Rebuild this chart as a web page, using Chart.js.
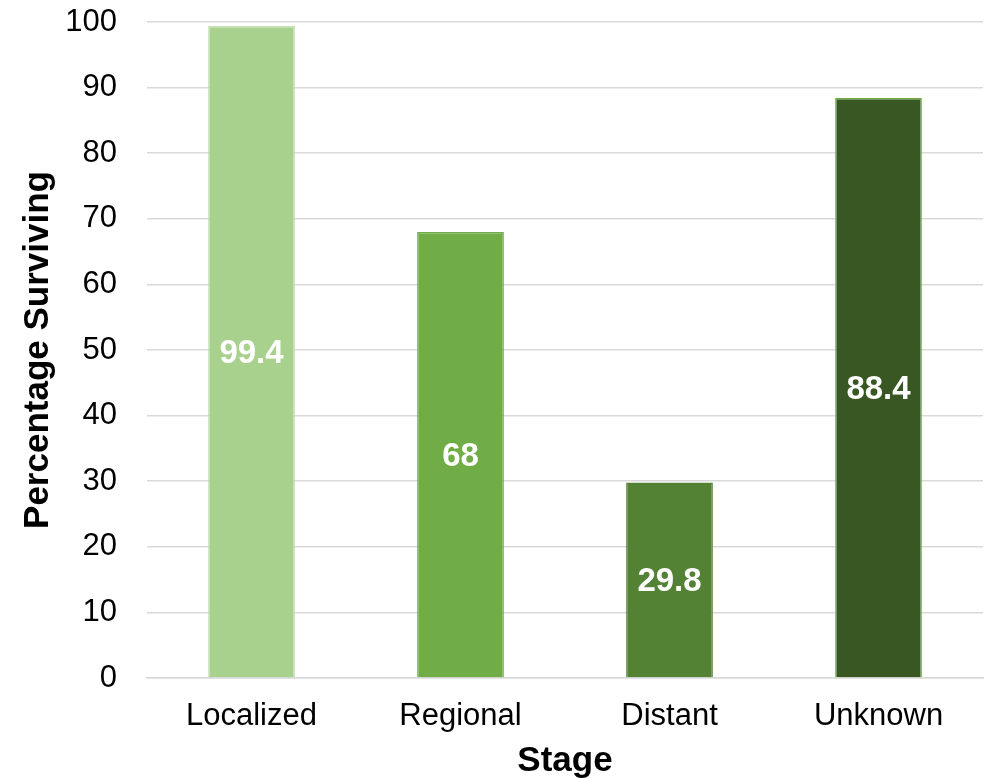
<!DOCTYPE html>
<html>
<head>
<meta charset="utf-8">
<script src="https://cdn.jsdelivr.net/npm/chart.js@4.4.1/dist/chart.umd.min.js"></script>
<style>
  html, body { margin: 0; padding: 0; background: #ffffff; }
  #wrap { width: 992px; height: 779px; position: relative; }
</style>
</head>
<body>
<div id="wrap"><canvas id="chart"></canvas></div>
<script>
// Five-year survival by stage at diagnosis
const stages = ['Localized', 'Regional', 'Distant', 'Unknown'];
const survival = [99.4, 68, 29.8, 88.4];
const barColors = ['#A9D18E', '#70AD47', '#548235', '#385723'];
const barBorders = ['#C5E0B4', '#70AD47', '#548235', '#70AD47'];
const yTicks = [0, 10, 20, 30, 40, 50, 60, 70, 80, 90, 100];

const FONT = '"Liberation Sans", Arial, sans-serif';

// Writes each bar's value in the middle of the bar
const centerLabels = {
  id: 'centerLabels',
  afterDatasetsDraw(chart) {
    const ctx = chart.ctx;
    const meta = chart.getDatasetMeta(0);
    ctx.save();
    ctx.font = 'bold 33px ' + FONT;
    ctx.fillStyle = '#ffffff';
    ctx.textAlign = 'center';
    ctx.textBaseline = 'middle';
    meta.data.forEach((bar, i) => {
      const v = chart.data.datasets[0].data[i];
      const y = (bar.y + bar.base) / 2 + 2;
      ctx.fillText(String(v), bar.x, y);
    });
    ctx.restore();
  }
};

new Chart(document.getElementById('chart'), {
  type: 'bar',
  data: {
    labels: stages,
    datasets: [{
      data: survival,
      backgroundColor: barColors,
      borderColor: barBorders,
      borderWidth: 1.5,
      categoryPercentage: 1,
      barPercentage: 0.415
    }]
  },
  options: {
    responsive: true,
    maintainAspectRatio: false,
    animation: false,
    layout: { padding: { top: 22, right: 9, bottom: 0, left: 21 } },
    plugins: {
      legend: { display: false },
      tooltip: { enabled: false }
    },
    scales: {
      x: {
        afterFit(scale) {
          scale.height = 101;
          scale.paddingLeft = 0;
          scale.paddingRight = 0;
        },
        grid: { display: false, drawTicks: false },
        border: { display: true, color: '#D9D9D9', width: 1.5 },
        ticks: {
          color: '#000000',
          font: { family: FONT, size: 31 },
          padding: 20
        },
        title: {
          display: true,
          text: 'Stage',
          color: '#000000',
          font: { family: FONT, size: 35, weight: 'bold', lineHeight: 1 },
          padding: { top: 9, bottom: 0 }
        }
      },
      y: {
        min: 0,
        max: 100,
        afterBuildTicks(scale) { scale.ticks = yTicks.map(v => ({ value: v })); },
        afterFit(scale) {
          scale.width = 126;
          scale.paddingTop = 0;
          scale.paddingBottom = 0;
        },
        grid: { color: '#D9D9D9', lineWidth: 1.5, drawTicks: false },
        border: { display: false },
        ticks: {
          color: '#000000',
          font: { family: FONT, size: 31 },
          padding: 30
        },
        title: {
          display: true,
          text: 'Percentage Surviving',
          color: '#000000',
          font: { family: FONT, size: 35, weight: 'bold', lineHeight: 1 },
          padding: { top: 0, bottom: 9 }
        }
      }
    }
  },
  plugins: [centerLabels]
});
</script>
</body>
</html>
